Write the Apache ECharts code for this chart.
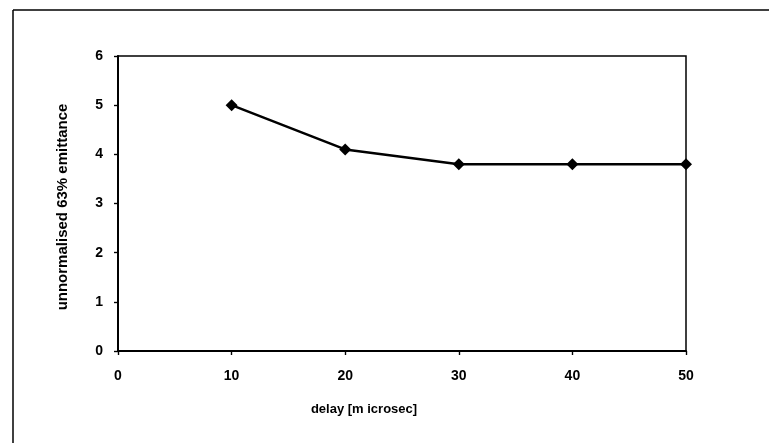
<!DOCTYPE html>
<html>
<head>
<meta charset="utf-8">
<script src="https://cdn.jsdelivr.net/npm/echarts@6/dist/echarts.min.js"></script>
<style>
html,body{margin:0;padding:0;background:#fff;}
#chart{width:769px;height:443px;}
</style>
</head>
<body>
<div id="chart"></div>
<script>
var delays = [10, 20, 30, 40, 50];
var emittance = [5.0, 4.1, 3.8, 3.8, 3.8];
var xTicks = [0, 10, 20, 30, 40, 50];
var yTicks = [0, 1, 2, 3, 4, 5, 6];
var xName = 'delay [m icrosec]';
var yName = 'unnormalised 63% emittance';

var font = 'Liberation Sans, Arial, sans-serif';
var chart = echarts.init(document.getElementById('chart'));
var pts = delays.map(function (d, i) { return [d, emittance[i]]; });

function xAxisDef(inside, show) {
  return {
    type: 'value', min: xTicks[0], max: xTicks[xTicks.length - 1], interval: 10,
    axisLine: { show: show, lineStyle: { color: '#000', width: 2 } },
    axisTick: { show: true, inside: inside, length: 4, lineStyle: { color: '#000', width: 1.2 } },
    axisLabel: { show: show, margin: 18, color: '#000', fontFamily: font, fontWeight: 'bold', fontSize: 14 },
    splitLine: { show: false }
  };
}
function yAxisDef(inside, show) {
  return {
    type: 'value', min: yTicks[0], max: yTicks[yTicks.length - 1], interval: 1,
    axisLine: { show: show, lineStyle: { color: '#000', width: 2 } },
    axisTick: { show: true, inside: inside, length: 4, lineStyle: { color: '#000', width: 1.2 } },
    axisLabel: { show: show, margin: 15, color: '#000', fontFamily: font, fontWeight: 'bold', fontSize: 14 },
    splitLine: { show: false }
  };
}

chart.setOption({
  animation: false,
  backgroundColor: '#fff',
  grid: { left: 118, right: 83, top: 56, bottom: 92, show: true, borderColor: '#000', borderWidth: 1.5, backgroundColor: 'transparent' },
  xAxis: [xAxisDef(false, true), xAxisDef(true, false)],
  yAxis: [yAxisDef(false, true), yAxisDef(true, false)],
  series: [{
    type: 'line',
    data: pts,
    symbol: 'diamond',
    symbolSize: [12, 12],
    itemStyle: { color: '#000' },
    lineStyle: { color: '#000', width: 2.5 },
    z: 5
  }],
  graphic: [
    { type: 'line', shape: { x1: 13, y1: 10, x2: 769, y2: 10 }, style: { stroke: '#000', lineWidth: 1.5 } },
    { type: 'line', shape: { x1: 13, y1: 10, x2: 13, y2: 443 }, style: { stroke: '#000', lineWidth: 1.5 } },
    { type: 'text', x: 364, y: 409, style: { text: xName, fill: '#000', font: 'bold 13px ' + font, textAlign: 'center', textVerticalAlign: 'middle' } },
    { type: 'text', x: 63, y: 207, rotation: Math.PI / 2, style: { text: yName, fill: '#000', font: 'bold 15px ' + font, textAlign: 'center', textVerticalAlign: 'middle' } }
  ]
});
</script>
</body>
</html>
